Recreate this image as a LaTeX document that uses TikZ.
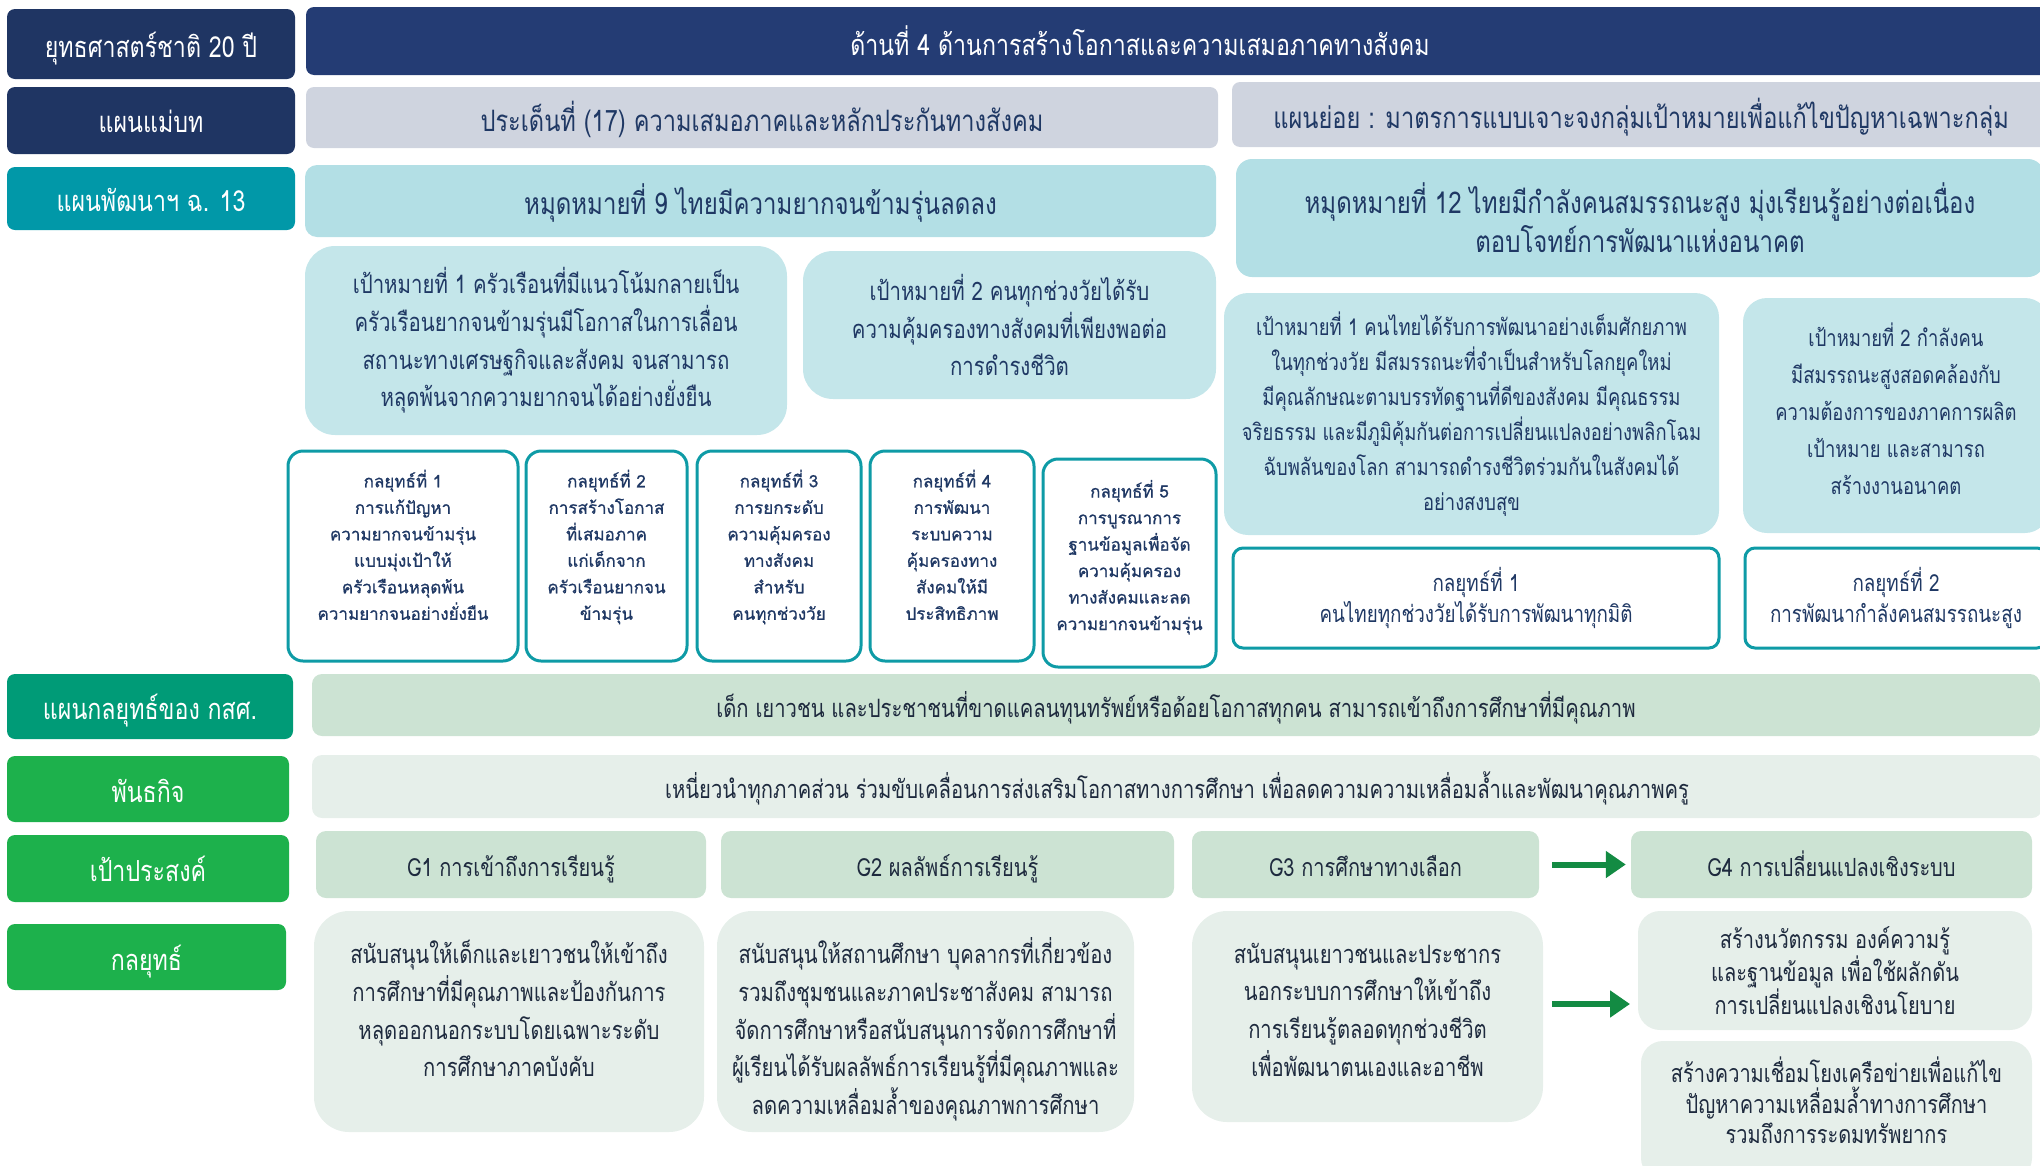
\documentclass[tikz,border=0pt]{standalone}
\usepackage{fontspec}
\setmainfont{Loma}[Script=Thai]
\newfontfamily\thc[Script=Thai,FakeStretch=0.8]{Loma}
\newfontfamily\thn[Script=Thai,FakeBold=0.8]{Loma}
\usetikzlibrary{arrows.meta,calc}
\definecolor{navyL}{HTML}{1F3563}
\definecolor{navyW}{HTML}{243C74}
\definecolor{greyB}{HTML}{CFD4DF}
\definecolor{tealL}{HTML}{0198A8}
\definecolor{tealB}{HTML}{B3DFE5}
\definecolor{goalC}{HTML}{C4E6EA}
\definecolor{tealS}{HTML}{0E9BA6}
\definecolor{kssG}{HTML}{009B77}
\definecolor{grnL}{HTML}{1DB14C}
\definecolor{lgA}{HTML}{CCE3D3}
\definecolor{lgB}{HTML}{E6EFEA}
\definecolor{arrG}{HTML}{138B43}
\definecolor{txtN}{HTML}{1F3864}
\definecolor{txtD}{HTML}{1E2A3E}
\newcommand\rb[7]{\node[#6, minimum width={#4-#2}, minimum height={#5-#3}] (#1) at ({(#2+#4)/2},{(#3+#5)/2}) {#7};}
\tikzset{
  base/.style={inner sep=0pt, align=center, anchor=center},
  lbl/.style={base, rounded corners=8pt, text=white, font=\thc\fontsize{29}{32}\selectfont, text height=32pt, text depth=6pt},
  hdr/.style={base, rounded corners=8pt, text=txtN, font=\thc\fontsize{29.5}{34}\selectfont},
  one/.style={text height=33pt, text depth=6pt},
  goal/.style={base, fill=goalC, rounded corners=30pt, text=txtN, font=\thc\fontsize{25.5}{37.7}\selectfont},
  strat/.style={base, draw=tealS, line width=3pt, fill=white, rounded corners=15pt, text=txtN, font=\thn\fontsize{17}{26.5}\selectfont},
  stratc/.style={base, draw=tealS, line width=3pt, fill=white, rounded corners=10pt, text=txtN, font=\thc\fontsize{23.5}{31}\selectfont},
  rowb/.style={base, rounded corners=10pt, text=txtD, font=\thc\fontsize{25.3}{30}\selectfont, text height=29pt, text depth=5pt},
  gbox/.style={base, fill=lgA, rounded corners=10pt, text=txtD, font=\thc\fontsize{25}{30}\selectfont, text height=29pt, text depth=5pt},
  sbox/.style={base, fill=lgB, rounded corners=35pt, text=txtD, font=\thc\fontsize{25.3}{37.7}\selectfont},
  sboxs/.style={base, fill=lgB, rounded corners=22pt, text=txtD, font=\thc\fontsize{25}{30.6}\selectfont},
  garrow/.style={draw=arrG, line width=6pt, -{Triangle[length=20pt,width=26pt]}},
}
\begin{document}
\begin{tikzpicture}[x=1pt,y=-1pt]
\useasboundingbox (0,0) rectangle (2040,1165);
% left labels
\rb{L1}{7}{9}{295}{79}{lbl, fill=navyL}{ยุทธศาสตร์ชาติ 20 ปี}
\rb{L2}{7}{87}{295}{154}{lbl, fill=navyL, text height=30pt}{แผนแม่บท}
\rb{L3}{7}{167}{295}{230}{lbl, fill=tealL}{แผนพัฒนาฯ ฉ. 13}
\rb{L4}{7}{674}{293}{739}{lbl, fill=kssG}{แผนกลยุทธ์ของ กสศ.}
\rb{L5}{7}{756}{289}{822}{lbl, fill=grnL}{พันธกิจ}
\rb{L6}{7}{835}{289}{902}{lbl, fill=grnL}{เป้าประสงค์}
\rb{L7}{7}{924}{286}{990}{lbl, fill=grnL}{กลยุทธ์}
% row 1
\rb{R1}{306}{7}{2060}{75}{base, fill=navyW, rounded corners=8pt}{}
\node[base, text=white, font=\thc\fontsize{29}{32}\selectfont] (R1t) at (1140,41) {ด้านที่ 4 ด้านการสร้างโอกาสและความเสมอภาคทางสังคม};
% row 2
\rb{R2a}{306}{87}{1218}{148}{hdr, one, fill=greyB}{ประเด็นที่ (17) ความเสมอภาคและหลักประกันทางสังคม}
\rb{R2b}{1232}{82}{2050}{147}{hdr, one, fill=greyB}{แผนย่อย : มาตรการแบบเจาะจงกลุ่มเป้าหมายเพื่อแก้ไขปัญหาเฉพาะกลุ่ม}
% row 3
\rb{R3a}{305}{165}{1216}{237}{hdr, fill=tealB, rounded corners=12pt, font=\thc\fontsize{30}{39}\selectfont, text height=33pt, text depth=6pt}{หมุดหมายที่ 9 ไทยมีความยากจนข้ามรุ่นลดลง}
\rb{R3b}{1236}{159}{2044}{277}{hdr, fill=tealB, rounded corners=16pt, font=\thc\fontsize{30}{39}\selectfont}{หมุดหมายที่ 12 ไทยมีกำลังคนสมรรถนะสูง มุ่งเรียนรู้อย่างต่อเนื่อง\\ตอบโจทย์การพัฒนาแห่งอนาคต}
% goals
\rb{GL1}{305}{246}{787}{435}{goal}{เป้าหมายที่ 1 ครัวเรือนที่มีแนวโน้มกลายเป็น\\ครัวเรือนยากจนข้ามรุ่นมีโอกาสในการเลื่อน\\สถานะทางเศรษฐกิจและสังคม จนสามารถ\\หลุดพ้นจากความยากจนได้อย่างยั่งยืน}
\rb{GL2}{803}{251}{1216}{399}{goal}{เป้าหมายที่ 2 คนทุกช่วงวัยได้รับ\\ความคุ้มครองทางสังคมที่เพียงพอต่อ\\การดำรงชีวิต}
\rb{GR1}{1224}{293}{1719}{535}{goal, rounded corners=24pt, font=\thc\fontsize{23}{35}\selectfont}{เป้าหมายที่ 1 คนไทยได้รับการพัฒนาอย่างเต็มศักยภาพ\\ในทุกช่วงวัย มีสมรรถนะที่จำเป็นสำหรับโลกยุคใหม่\\มีคุณลักษณะตามบรรทัดฐานที่ดีของสังคม มีคุณธรรม\\จริยธรรม และมีภูมิคุ้มกันต่อการเปลี่ยนแปลงอย่างพลิกโฉม\\ฉับพลันของโลก สามารถดำรงชีวิตร่วมกันในสังคมได้\\อย่างสงบสุข}
\rb{GR2}{1743}{298}{2049}{533}{goal, rounded corners=24pt, font=\thc\fontsize{23}{37}\selectfont}{เป้าหมายที่ 2 กำลังคน\\มีสมรรถนะสูงสอดคล้องกับ\\ความต้องการของภาคการผลิต\\เป้าหมาย และสามารถ\\สร้างงานอนาคต\\[-24pt]}
% strategies (NESDP)
\rb{S1}{288}{451}{518}{661}{strat}{กลยุทธ์ที่ 1\\การแก้ปัญหา\\ความยากจนข้ามรุ่น\\แบบมุ่งเป้าให้\\ครัวเรือนหลุดพ้น\\ความยากจนอย่างยั่งยืน\\[-4pt]}
\rb{S2}{526}{451}{687}{661}{strat}{กลยุทธ์ที่ 2\\การสร้างโอกาส\\ที่เสมอภาค\\แก่เด็กจาก\\ครัวเรือนยากจน\\ข้ามรุ่น\\[-4pt]}
\rb{S3}{697}{451}{861}{661}{strat}{กลยุทธ์ที่ 3\\การยกระดับ\\ความคุ้มครอง\\ทางสังคม\\สำหรับ\\คนทุกช่วงวัย\\[-4pt]}
\rb{S4}{870}{451}{1034}{661}{strat}{กลยุทธ์ที่ 4\\การพัฒนา\\ระบบความ\\คุ้มครองทาง\\สังคมให้มี\\ประสิทธิภาพ\\[-4pt]}
\rb{S5}{1043}{459}{1216}{667}{strat}{กลยุทธ์ที่ 5\\การบูรณาการ\\ฐานข้อมูลเพื่อจัด\\ความคุ้มครอง\\ทางสังคมและลด\\ความยากจนข้ามรุ่น\\[-10.5pt]}
\rb{SR1}{1233}{548}{1719}{648}{stratc}{กลยุทธ์ที่ 1\\คนไทยทุกช่วงวัยได้รับการพัฒนาทุกมิติ}
\rb{SR2}{1745}{548}{2047}{648}{stratc}{กลยุทธ์ที่ 2\\การพัฒนากำลังคนสมรรถนะสูง}
% EEF rows
\rb{K}{312}{674}{2040}{736}{rowb, fill=lgA}{เด็ก เยาวชน และประชาชนที่ขาดแคลนทุนทรัพย์หรือด้อยโอกาสทุกคน สามารถเข้าถึงการศึกษาที่มีคุณภาพ}
\rb{M}{312}{755}{2042}{818}{rowb, fill=lgB}{เหนี่ยวนำทุกภาคส่วน ร่วมขับเคลื่อนการส่งเสริมโอกาสทางการศึกษา เพื่อลดความความเหลื่อมล้ำและพัฒนาคุณภาพครู}
\rb{G1}{316}{831}{706}{898}{gbox}{G1 การเข้าถึงการเรียนรู้}
\rb{G2}{721}{831}{1174}{898}{gbox}{G2 ผลลัพธ์การเรียนรู้}
\rb{G3}{1192}{831}{1539}{898}{gbox}{G3 การศึกษาทางเลือก}
\rb{G4}{1631}{831}{2032}{898}{gbox}{G4 การเปลี่ยนแปลงเชิงระบบ}
\rb{ST1}{314}{911}{704}{1132}{sbox}{สนับสนุนให้เด็กและเยาวชนให้เข้าถึง\\การศึกษาที่มีคุณภาพและป้องกันการ\\หลุดออกนอกระบบโดยเฉพาะระดับ\\การศึกษาภาคบังคับ\\[-12pt]}
\rb{ST2}{717}{911}{1134}{1132}{sbox}{}
\node[base, text=txtD, font=\thc\fontsize{25.3}{37.7}\selectfont] (ST2t) at ($(ST2.center)+(0,8)$) {สนับสนุนให้สถานศึกษา บุคลากรที่เกี่ยวข้อง\\รวมถึงชุมชนและภาคประชาสังคม สามารถ\\จัดการศึกษาหรือสนับสนุนการจัดการศึกษาที่\\ผู้เรียนได้รับผลลัพธ์การเรียนรู้ที่มีคุณภาพและ\\ลดความเหลื่อมล้ำของคุณภาพการศึกษา};
\rb{ST3}{1192}{911}{1543}{1122}{sbox}{สนับสนุนเยาวชนและประชากร\\นอกระบบการศึกษาให้เข้าถึง\\การเรียนรู้ตลอดทุกช่วงชีวิต\\เพื่อพัฒนาตนเองและอาชีพ\\[-24pt]}
\rb{ST4a}{1638}{911}{2032}{1030}{sboxs}{สร้างนวัตกรรม องค์ความรู้\\และฐานข้อมูล เพื่อใช้ผลักดัน\\การเปลี่ยนแปลงเชิงนโยบาย}
\rb{ST4b}{1641}{1041}{2032}{1180}{sboxs}{สร้างความเชื่อมโยงเครือข่ายเพื่อแก้ไข\\ปัญหาความเหลื่อมล้ำทางการศึกษา\\รวมถึงการระดมทรัพยากร\\[-10.6pt]}
% arrows
\draw[garrow] ([xshift=13pt]G3.east) -- ([xshift=-5pt]G4.west);
\coordinate (A2e) at (1630,1004);
\draw[garrow] ($(ST3.east |- A2e)+(9,0)$) -- (A2e);
\end{tikzpicture}
\end{document}
